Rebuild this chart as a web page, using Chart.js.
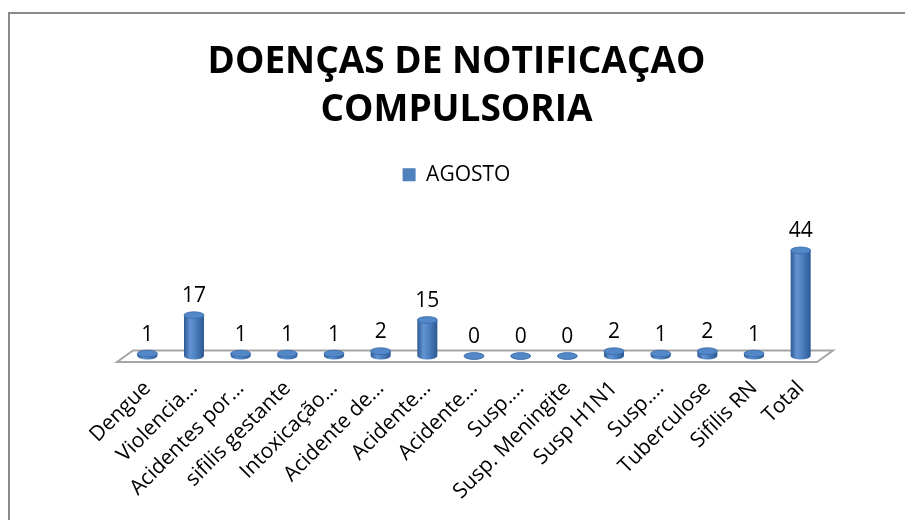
<!DOCTYPE html>
<html>
<head>
<meta charset="utf-8">
<script src="https://cdn.jsdelivr.net/npm/chart.js@4/dist/chart.umd.min.js"></script>
<style>
  body { margin: 0; background: #fff; }
  canvas { display: block; }
</style>
</head>
<body>
<canvas id="chart" width="905" height="520"></canvas>
<script>
const categories = [
  "Dengue", "Violencia…", "Acidentes por…", "sifilis gestante", "Intoxicação…",
  "Acidente de…", "Acidente…", "Acidente…", "Susp.…", "Susp. Meningite",
  "Susp H1N1", "Susp.…", "Tuberculose", "Sifilis RN", "Total"
];
const agosto = [1, 17, 1, 1, 1, 2, 15, 0, 0, 0, 2, 1, 2, 1, 44];
const seriesName = "AGOSTO";
const titleLines = ["DOENÇAS DE NOTIFICAÇAO", "COMPULSORIA"];

const FONT = "'Open Sans', sans-serif";

// frame around the picture
const framePlugin = {
  id: "frame",
  beforeDraw(chart) {
    const ctx = chart.ctx;
    ctx.save();
    ctx.strokeStyle = "#8a8a8a";
    ctx.lineWidth = 2;
    ctx.strokeRect(9, 13, 1000, 1000);
    ctx.restore();
  }
};

// floor under the cylinders
const floorPlugin = {
  id: "floor",
  beforeDatasetsDraw(chart) {
    const { ctx, chartArea } = chart;
    const zero = chart.scales.y.getPixelForValue(0);
    const l = chartArea.left, r = chartArea.right;
    ctx.save();
    ctx.beginPath();
    ctx.moveTo(l + 9, zero - 5.5);
    ctx.lineTo(r + 9, zero - 5.5);
    ctx.lineTo(r - 7, zero + 6);
    ctx.lineTo(l - 7, zero + 6);
    ctx.closePath();
    ctx.fillStyle = "#ffffff";
    ctx.fill();
    ctx.strokeStyle = "#a6a6a6";
    ctx.lineWidth = 2;
    ctx.stroke();
    ctx.restore();
  }
};

// cylinders + value labels, drawn at the bar elements' positions
const cylinderPlugin = {
  id: "cylinder",
  afterDatasetsDraw(chart) {
    const ctx = chart.ctx;
    const meta = chart.getDatasetMeta(0);
    const data = chart.data.datasets[0].data;
    meta.data.forEach((bar, i) => {
      const { x, y, base, width } = bar.getProps(["x", "y", "base", "width"], true);
      const rx = width / 2, ry = 3.4;
      const top = Math.min(y, base);
      ctx.save();
      const g = ctx.createLinearGradient(x - rx, 0, x + rx, 0);
      g.addColorStop(0, "#2d5a94");
      g.addColorStop(0.3, "#6393d2");
      g.addColorStop(0.55, "#5083c3");
      g.addColorStop(1, "#2c5892");
      // body
      ctx.beginPath();
      ctx.moveTo(x - rx, top);
      ctx.lineTo(x - rx, base);
      ctx.ellipse(x, base, rx, ry, 0, Math.PI, 0, true);
      ctx.lineTo(x + rx, top);
      ctx.closePath();
      ctx.fillStyle = g;
      ctx.fill();
      // top cap
      ctx.beginPath();
      ctx.ellipse(x, top, rx, ry, 0, 0, Math.PI * 2);
      ctx.fillStyle = "#5287c8";
      ctx.fill();
      ctx.strokeStyle = "#3a69a8";
      ctx.lineWidth = 0.8;
      ctx.stroke();
      // value label
      ctx.fillStyle = "#000";
      ctx.font = "21px " + FONT;
      ctx.textAlign = "center";
      ctx.textBaseline = "alphabetic";
      ctx.fillText(String(data[i]), x, top - 13);
      ctx.restore();
    });
  }
};

new Chart(document.getElementById("chart"), {
  type: "bar",
  data: {
    labels: categories,
    datasets: [{
      label: seriesName,
      data: agosto,
      backgroundColor: "rgba(0,0,0,0)",
      borderWidth: 0,
      barThickness: 20
    }]
  },
  options: {
    responsive: false,
    animation: false,
    layout: { padding: { left: 89, right: 81, top: 0, bottom: 0 } },
    plugins: {
      title: {
        display: true,
        text: titleLines,
        color: "#000",
        font: { family: FONT, size: 37, weight: "bold", lineHeight: 1.3 },
        padding: { top: 38, bottom: 20 }
      },
      legend: {
        display: true,
        labels: {
          color: "#000",
          font: { family: FONT, size: 21 },
          boxWidth: 13,
          boxHeight: 13,
          padding: 10,
          generateLabels(chart) {
            return [{
              text: seriesName,
              fillStyle: "#4f81bd",
              strokeStyle: "#4f81bd",
              lineWidth: 0,
              datasetIndex: 0
            }];
          }
        }
      },
      tooltip: { enabled: false }
    },
    scales: {
      x: {
        grid: { display: false, drawTicks: false },
        border: { display: false },
        ticks: {
          color: "#000",
          font: { family: FONT, size: 21 },
          minRotation: 45,
          maxRotation: 45,
          autoSkip: false,
          padding: 20
        },
        afterFit(scale) { scale.height = 164; }
      },
      y: {
        display: true,
        min: 0,
        max: 67,
        grid: { display: false, drawTicks: false },
        border: { display: false },
        ticks: { display: false },
        afterFit(scale) { scale.width = 35; }
      }
    }
  },
  plugins: [framePlugin, floorPlugin, cylinderPlugin]
});
</script>
</body>
</html>
